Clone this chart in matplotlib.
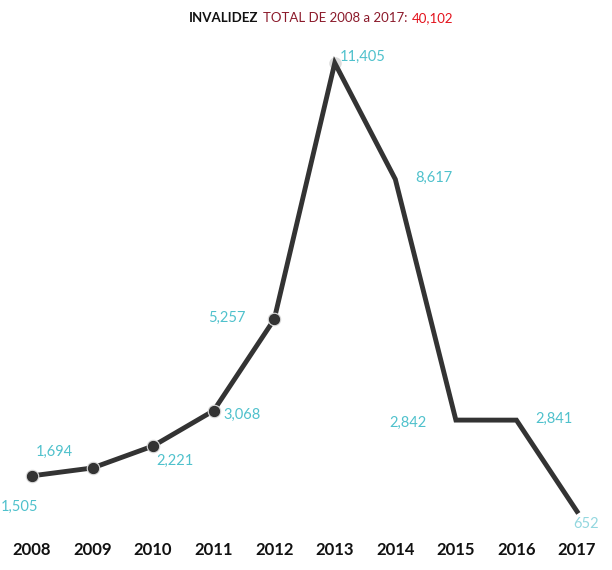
import matplotlib
matplotlib.use("Agg")
import matplotlib.pyplot as plt
from matplotlib.offsetbox import TextArea, HPacker, AnnotationBbox

years = [2008, 2009, 2010, 2011, 2012, 2013, 2014, 2015, 2016, 2017]
casos = [1505, 1694, 2221, 3068, 5257, 11405, 8617, 2842, 2841, 652]
etiquetas = ["1,505", "1,694", "2,221", "3,068", "5,257",
             "11,405", "8,617", "2,842", "2,841", "652"]
# desplazamiento de cada etiqueta (pixeles)
offsets = [(-12, -31), (-38, 16), (22, -15), (28, -4), (-47, 1),
           (28, 6), (39, 1), (-48, -3), (38, 1), (9, -13)]

total = "40,102"

LINEA = "#333333"
TEAL = "#4fc1cc"

plt.rcParams["font.family"] = ["Lato", "DejaVu Sans"]

fig = plt.figure(figsize=(6.12, 5.7), dpi=100)
ax = fig.add_axes([0, 0, 1, 1])
ax.set_xlim(2007.472, 2017.578)
ax.set_ylim(-753, 12916)
ax.axis("off")

ax.plot(years, casos, color=LINEA, lw=3.5, solid_joinstyle="miter",
        zorder=2)
# marcadores solo de 2008 a 2012
ax.plot(years[:5], casos[:5], "o", ms=9, color=LINEA, mec="#dddddd",
        mew=0.8, zorder=3)
ax.plot(years[5], casos[5], "o", ms=9, color="#cccccc", alpha=0.7,
        mec="none", zorder=1)

for i, (x, y) in enumerate(zip(years, casos)):
    col = "#93d7df" if i == len(years) - 1 else TEAL
    ax.annotate(etiquetas[i], (x, y), xytext=offsets[i],
                textcoords="offset pixels", ha="center", va="center",
                fontsize=10.5, color=col)

for x in years:
    ax.text(x, 20 / 570, str(x), transform=ax.get_xaxis_transform(),
            ha="center", va="center", fontsize=12, fontweight="bold",
            color="#111111")

partes = [
    TextArea("INVALIDEZ", textprops=dict(fontsize=9.5, fontweight="bold",
                                         color="#111111")),
    TextArea("TOTAL DE 2008 a 2017:", textprops=dict(fontsize=9.5,
                                                    color="#8b1a2b")),
    TextArea(total, textprops=dict(fontsize=9.5, color="#e3121c")),
]
caja = HPacker(children=partes, align="baseline", pad=0, sep=3)
ab = AnnotationBbox(caja, (321 / 612, 1 - 18 / 570), xycoords="figure fraction",
                    frameon=False, box_alignment=(0.5, 0.5))
ax.add_artist(ab)

fig.savefig("out.png", dpi=100)
